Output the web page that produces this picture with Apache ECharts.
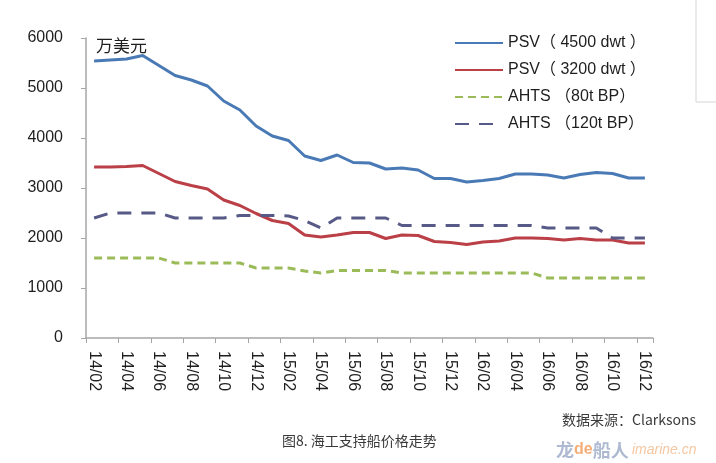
<!DOCTYPE html>
<html>
<head>
<meta charset="utf-8">
<script src="https://cdn.jsdelivr.net/npm/echarts@6/dist/echarts.min.js"></script>
<style>
html,body{margin:0;padding:0;background:#fff;}
#chart{width:716px;height:463px;}
</style>
</head>
<body>
<div id="chart"></div>
<script>
const categories = ['14/02','14/03','14/04','14/05','14/06','14/07','14/08','14/09','14/10','14/11','14/12','15/01',
  '15/02','15/03','15/04','15/05','15/06','15/07','15/08','15/09','15/10','15/11','15/12','16/01',
  '16/02','16/03','16/04','16/05','16/06','16/07','16/08','16/09','16/10','16/11','16/12'];
const psv4500 = [5540,5560,5580,5650,5450,5250,5160,5040,4740,4560,4240,4040,3950,3640,3550,3660,3510,3500,3380,3400,3360,3190,3190,3120,3150,3190,3280,3280,3260,3200,3270,3310,3290,3200,3200];
const psv3200 = [3420,3420,3430,3450,3290,3130,3050,2980,2760,2650,2490,2350,2290,2060,2020,2060,2110,2110,1990,2060,2050,1930,1910,1870,1920,1940,2000,2000,1990,1960,1990,1960,1960,1900,1900];
const ahts80 = [1600,1600,1600,1600,1600,1500,1500,1500,1500,1500,1400,1400,1400,1340,1300,1350,1350,1350,1350,1300,1300,1300,1300,1300,1300,1300,1300,1300,1200,1200,1200,1200,1200,1200,1200];
const ahts120 = [2400,2500,2500,2500,2500,2400,2400,2400,2400,2450,2450,2450,2440,2350,2200,2400,2400,2400,2400,2250,2250,2250,2250,2250,2250,2250,2250,2250,2200,2200,2200,2200,2000,2000,2000];
const seriesNames = ['PSV（ 4500 dwt ）','PSV（ 3200 dwt ）','AHTS （80t BP）','AHTS （120t BP）'];
const yTicks = [0,1000,2000,3000,4000,5000,6000];
const unitLabel = '万美元';
const sourceLabel = '数据来源：Clarksons';
const captionLabel = '图8. 海工支持船价格走势';

const FONT = '"Liberation Sans", Arial, "Noto Sans CJK SC", sans-serif';
const CJK = '"Noto Sans CJK SC", "Liberation Sans", sans-serif';
const chart = echarts.init(document.getElementById('chart'), null, {renderer:'canvas'});

function lineSeries(name, data, color, dash) {
  return {
    name: name, type: 'line', data: data, symbol: 'none', showSymbol: false, smooth: false,
    lineStyle: {color: color, width: 3, type: dash || 'solid', cap: 'butt'},
    itemStyle: {color: color},
    emphasis: {disabled: true}, animation: false
  };
}

chart.setOption({
  animation: false,
  backgroundColor: '#fff',
  grid: {left: 86, right: 63, top: 38, bottom: 125, containLabel: false},
  legend: {
    orient: 'vertical', left: 454, top: 35, padding: 0, itemWidth: 48, itemHeight: 14, itemGap: 11,
    data: seriesNames,
    itemStyle: {opacity: 0},
    textStyle: {fontSize: 16, color: '#1e1e1e', fontFamily: FONT, lineHeight: 16}
  },
  xAxis: {
    type: 'category', data: categories, boundaryGap: true,
    axisLine: {lineStyle: {color: '#a6a6a6', width: 1.5}},
    axisTick: {show: true, interval: 1, length: 5, lineStyle: {color: '#a6a6a6'}},
    axisLabel: {interval: 1, rotate: -90, margin: 13, fontSize: 16, color: '#1e1e1e', fontFamily: FONT},
    splitLine: {show: false}
  },
  yAxis: {
    type: 'value', min: yTicks[0], max: yTicks[yTicks.length-1], interval: 1000,
    axisLine: {show: true, lineStyle: {color: '#a6a6a6', width: 1.5}},
    axisTick: {show: true, length: 5, lineStyle: {color: '#a6a6a6'}},
    axisLabel: {margin: 23, fontSize: 16, color: '#1e1e1e', fontFamily: FONT, formatter: function (v) { return String(v); }},
    splitLine: {show: false}
  },
  series: [
    lineSeries(seriesNames[0], psv4500, '#4A7AB5'),
    lineSeries(seriesNames[1], psv3200, '#BA3F46'),
    lineSeries(seriesNames[2], ahts80, '#9BBB59', [8,5]),
    lineSeries(seriesNames[3], ahts120, '#575A86', [14,10])
  ],
  graphic: [
    {type: 'text', left: 96, top: 37, style: {text: unitLabel, font: '17px ' + CJK, fill: '#1e1e1e'}},
    {type: 'text', left: 562, top: 413, style: {text: sourceLabel, font: '14px ' + CJK, fill: '#3a3a3a'}},
    {type: 'text', left: 282, top: 434, style: {text: captionLabel, font: '14px ' + CJK, fill: '#3a3a3a'}},
    {type: 'text', left: 556, top: 441, style: {
      text: '{a|龙}{b|de}{a|船人} {c|imarine.cn}',
      rich: {
        a: {fontSize: 18, fontWeight: 'bold', fill: '#aebad2', color: '#aebad2', fontFamily: CJK},
        b: {fontSize: 16, fontWeight: 'bold', fill: '#f5ae78', color: '#f5ae78', fontFamily: FONT},
        c: {fontSize: 14, fontStyle: 'italic', fill: '#f4c7a2', color: '#f4c7a2', fontFamily: FONT}
      }
    }},
    {type: 'line', shape: {x1: 696, y1: 0, x2: 696, y2: 102}, style: {stroke: '#d6d6d6', lineWidth: 1}},
    {type: 'line', shape: {x1: 696, y1: 102, x2: 716, y2: 102}, style: {stroke: '#d6d6d6', lineWidth: 1}}
  ]
});
</script>
</body>
</html>
